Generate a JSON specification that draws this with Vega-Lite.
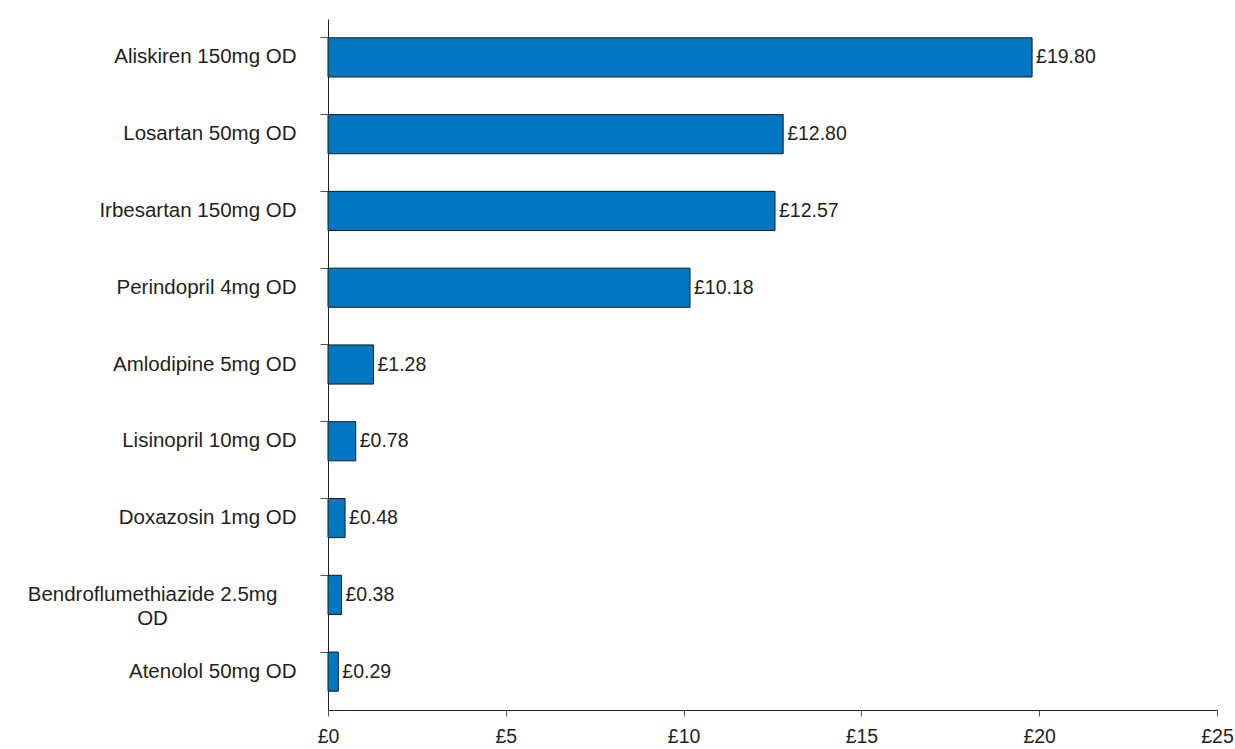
{
  "$schema": "https://vega.github.io/schema/vega-lite/v6.json",
  "width": 889,
  "height": 691,
  "autosize": {"type": "none"},
  "padding": {"left": 328, "top": 19, "right": 18, "bottom": 39},
  "background": "white",
  "config": {
    "view": {"stroke": null},
    "font": "Liberation Sans",
    "locale": {"number": {"decimal": ".", "thousands": ",", "grouping": [3], "currency": ["£", ""]}},
    "axis": {"grid": false, "domainColor": "#222222", "tickColor": "#555555", "labelColor": "#231f20", "labelFont": "Liberation Sans", "labelFontSize": 19.5, "title": null}
  },
  "data": {
    "values": [
      {"drug": "Aliskiren 150mg OD", "cost": 19.80},
      {"drug": "Losartan 50mg OD", "cost": 12.80},
      {"drug": "Irbesartan 150mg OD", "cost": 12.57},
      {"drug": "Perindopril 4mg OD", "cost": 10.18},
      {"drug": "Amlodipine 5mg OD", "cost": 1.28},
      {"drug": "Lisinopril 10mg OD", "cost": 0.78},
      {"drug": "Doxazosin 1mg OD", "cost": 0.48},
      {"drug": "Bendroflumethiazide 2.5mg OD", "cost": 0.38},
      {"drug": "Atenolol 50mg OD", "cost": 0.29}
    ]
  },
  "encoding": {
    "y": {
      "field": "drug",
      "type": "nominal",
      "sort": null,
      "scale": {"paddingInner": 0.49, "paddingOuter": 0.245},
      "axis": {
        "bandPosition": 0,
        "tickSize": 8,
        "labelFontSize": 20.5,
        "labelPadding": {"condition": {"test": "datum.value == 'Bendroflumethiazide 2.5mg OD'", "value": 168}, "value": 24},
        "labelAlign": {"condition": {"test": "datum.value == 'Bendroflumethiazide 2.5mg OD'", "value": "center"}, "value": "right"},
        "labelLimit": 400,
        "labelExpr": "datum.value == 'Bendroflumethiazide 2.5mg OD' ? ['Bendroflumethiazide 2.5mg', 'OD'] : datum.value",
        "labelLineHeight": 24
      }
    },
    "x": {
      "field": "cost",
      "type": "quantitative",
      "scale": {"domain": [0, 25], "nice": false},
      "axis": {
        "values": [0, 5, 10, 15, 20, 25],
        "tickSize": 6,
        "labelPadding": 11,
        "labelFlush": false,
        "labelExpr": "'£' + datum.value"
      }
    }
  },
  "layer": [
    {"mark": {"type": "bar", "fill": "#0077c0", "stroke": "#1a1a1a", "strokeWidth": 1}},
    {
      "mark": {"type": "text", "align": "left", "baseline": "middle", "dx": 4, "fontSize": 19.5, "color": "#231f20", "font": "Liberation Sans"},
      "encoding": {"text": {"field": "cost", "type": "quantitative", "format": "$.2f"}}
    }
  ]
}
